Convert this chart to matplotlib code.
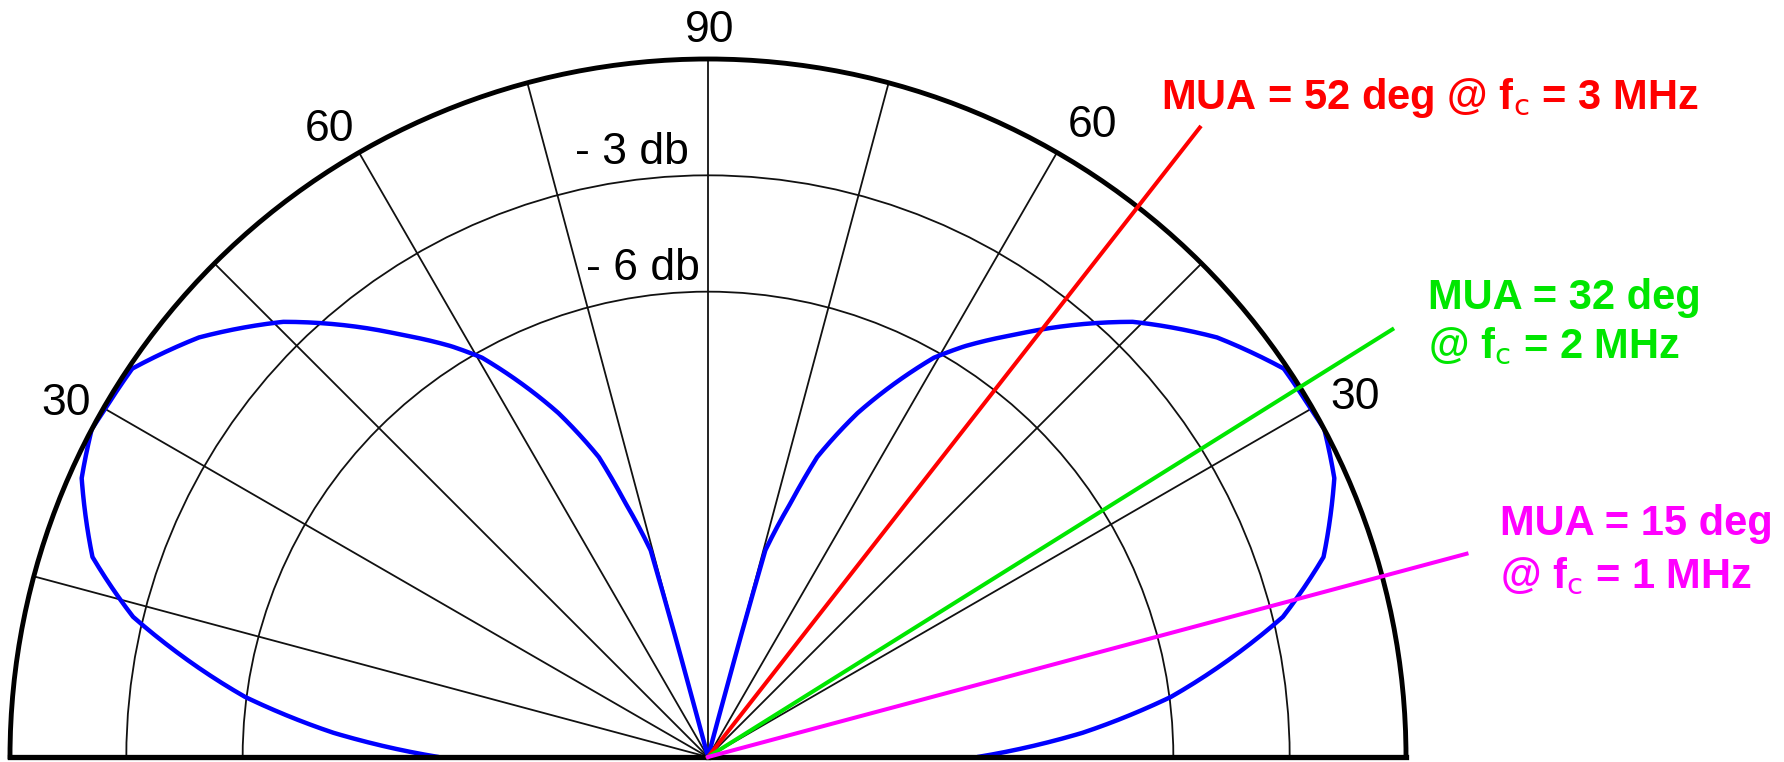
import os
import numpy as np
import matplotlib
matplotlib.use("Agg")
import matplotlib.pyplot as plt
from matplotlib import font_manager
from matplotlib.font_manager import FontProperties

# measured transducer beam pattern: elevation angle (deg) vs relative level (dB)
elev_deg = [0, 3.7, 7.4, 13.7, 18, 24, 28, 30, 34, 39.5, 45.7, 54, 58, 60.5,
            66.5, 70, 72, 74.5, 74.8, 75]
level_db = [-11.05, -8.32, -5.96, -2.74, -1.31, -0.32, 0.0, -0.05, -0.09, -0.99,
            -2.32, -4.54, -5.51, -6.17, -8.33, -9.77, -11.12, -12.47, -14.87, -18.0]

db_floor = -18
db_circles = [-3, -6]
db_circle_labels = ["- 3 db", "- 6 db"]
spoke_deg = list(range(15, 180, 15))
angle_ticks = [30, 60, 90, 120, 150]
angle_tick_labels = ["30", "60", "90", "60", "30"]

# maximum usable angle per centre frequency
mua_deg = [52, 32, 15]
mua_freq_mhz = [3, 2, 1]
mua_colors = ["#ff0000", "#00e600", "#ff00ff"]

# Arial Narrow look-alike for the MUA captions when available
files = {os.path.basename(f.fname).lower(): f.fname
         for f in font_manager.fontManager.ttflist}
if "liberationsansnarrow-bold.ttf" in files:
    cap_prop = FontProperties(fname=files["liberationsansnarrow-bold.ttf"], size=35)
    cap_family = cap_prop.get_name()
else:
    cap_prop = FontProperties(family="Liberation Sans", weight="bold", size=30)
    cap_family = "Liberation Sans"

plt.rcParams["font.family"] = ["Liberation Sans", "DejaVu Sans"]
plt.rcParams["mathtext.fontset"] = "custom"
for k in ["rm", "it", "bf"]:
    plt.rcParams["mathtext." + k] = cap_family + ":bold"
plt.rcParams["mathtext.default"] = "rm"

W, H = 1784, 762
fig = plt.figure(figsize=(W / 100, H / 100), dpi=100)

# half-disc: centre at (708, 5) px from bottom-left, radius 698 px
R = 698
cx, cy = 708, 5
side = 2 * R
ax = fig.add_axes([(cx - R) / W, (cy - 0.25 * side) / H, side / W, side / H],
                  projection="polar")
ax.set_thetamin(0)
ax.set_thetamax(180)
ax.set_ylim(db_floor, 0)
ax.set_rgrids(db_circles, labels=[""] * len(db_circles))
ax.set_thetagrids(spoke_deg, labels=[""] * len(spoke_deg))
ax.tick_params(length=0)
ax.grid(True, color="#111111", lw=1.3)
ax.spines["polar"].set_linewidth(3.5)
ax.spines["start"].set_linewidth(3.8)
ax.spines["end"].set_linewidth(3.8)
ax.spines["inner"].set_visible(False)

# beam pattern, symmetric about broadside
el = np.radians(np.array(elev_deg))
lv = np.array(level_db)
for th in (el, np.pi - el):
    line, = ax.plot(th, lv, color="#0000ff", lw=3.2, solid_capstyle="round",
                    solid_joinstyle="round")
    # let the polar transform bend each segment instead of drawing chords
    line.get_path()._interpolation_steps = 30

# MUA rays
mua_line_end = [2.6, 2.81, 2.25]
for a, r_end, c in zip(mua_deg, mua_line_end, mua_colors):
    t = np.radians(a)
    ax.plot([t, t], [db_floor, r_end], color=c, lw=2.9, clip_on=False, zorder=3)

# angle labels round the rim
label_offsets = [(30.6, 7.9), (25.9, 19.1), (1.4, 20.2), (-21.6, 16.9), (-27, 2.9)]
for a, lbl, off in zip(angle_ticks, angle_tick_labels, label_offsets):
    ax.annotate(lbl, xy=(np.radians(a), 0), xytext=off,
                textcoords="offset points", ha="center", va="center",
                fontsize=32, annotation_clip=False)

# dB circle labels
for v, lbl, a in zip(db_circles, db_circle_labels, [97.5, 98.0]):
    ax.annotate(lbl, xy=(np.radians(a), v), xytext=(0, 11.5),
                textcoords="offset points", ha="center", va="baseline",
                fontsize=32)

tkw = dict(fontproperties=cap_prop, va="baseline", ha="left")
fig.text(1161 / W, 0.857,
         f"MUA = {mua_deg[0]} deg @ f$_c$ = {mua_freq_mhz[0]} MHz",
         color=mua_colors[0], **tkw)
fig.text(1428 / W, 0.594, f"MUA = {mua_deg[1]} deg", color=mua_colors[1], **tkw)
fig.text(1428 / W, 0.530, f"@ f$_c$ = {mua_freq_mhz[1]} MHz",
         color=mua_colors[1], **tkw)
fig.text(1500 / W, 0.298, f"MUA = {mua_deg[2]} deg", color=mua_colors[2], **tkw)
fig.text(1500 / W, 0.228, f"@ f$_c$ = {mua_freq_mhz[2]} MHz",
         color=mua_colors[2], **tkw)

fig.savefig("out.png", dpi=100, facecolor="white")
